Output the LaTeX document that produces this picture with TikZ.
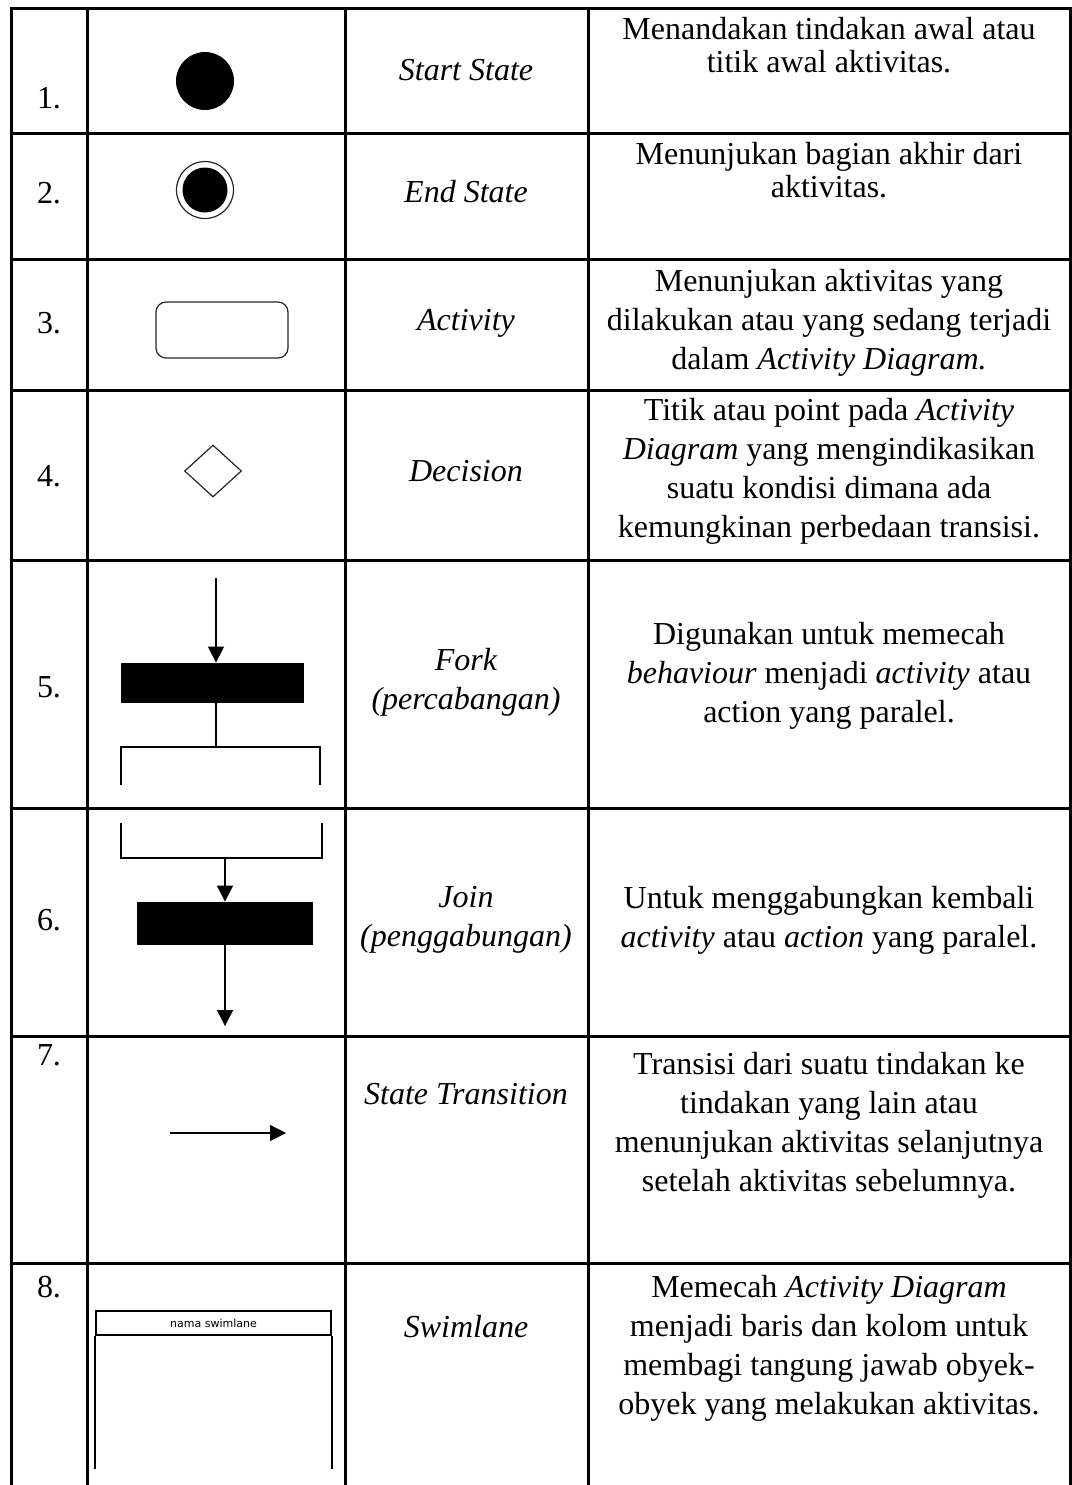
\documentclass[tikz,border=0pt]{standalone}
\usepackage{fontspec}
\setmainfont{Liberation Serif}
\newfontfamily\lanefont{DejaVu Sans}
\usetikzlibrary{arrows.meta,positioning,shapes.geometric}

\tikzset{
  tableline/.style={line width=1.5pt,line cap=rect},
  cell/.style={align=center,inner sep=0pt,font=\fontsize{16}{19.5}\selectfont},
  tightcell/.style={cell,font=\fontsize{16}{16.5}\selectfont},
  term/.style={cell,font=\fontsize{16}{19.5}\selectfont\itshape},
  thinshape/.style={draw=black!85,line width=0.6pt,inner sep=0pt},
  syncbar/.style={fill=black,inner sep=0pt},
  flow/.style={line width=0.7pt,-{Triangle[length=8pt,width=8pt]}},
  bracket/.style={line width=0.9pt},
}

\begin{document}
\begin{tikzpicture}[x=0.5pt,y=-0.5pt]
\useasboundingbox (0,0) rectangle (1072,1485);

% --- table grid (bottom is left open) ---
\draw[tableline] (11,1485) -- (11,8) -- (1070,8) -- (1070,1485);
\foreach \x in {87,345,588}
  \draw[tableline] (\x,8) -- (\x,1485);
\foreach \y in {133,259,390,560,808,1036,1263}
  \draw[tableline] (11,\y) -- (1070,\y);

% --- row numbers ---
\foreach \i/\y in {1/98,2/193,3/323,4/476,5/687,6/920,7/1055,8/1287}
  \node[cell] (num\i) at (49,\y) {\i.};

% --- symbol names ---
\node[term] (term1) at (466,70) {Start State};
\node[term] (term2) at (466,192) {End State};
\node[term] (term3) at (466,323) {Activity};
\node[term] (term4) at (466,471) {Decision};
\node[term] (term5) at (466,682) {Fork\\(percabangan)};
\node[term] (term6) at (466,920) {Join\\(penggabungan)};
\node[term] (term7) at (466,1094) {State Transition};
\node[term] (term8) at (466,1327) {Swimlane};

% --- descriptions ---
\node[tightcell] (desc1) at (829,45) {Menandakan tindakan awal atau\\titik awal aktivitas.};
\node[tightcell] (desc2) at (829,170) {Menunjukan bagian akhir dari\\aktivitas.};
\node[cell] (desc3) at (829,323) {Menunjukan aktivitas yang\\dilakukan atau yang sedang terjadi\\dalam \textit{Activity Diagram.}};
\node[cell] (desc4) at (829,471) {Titik atau point pada \textit{Activity}\\\textit{Diagram} yang mengindikasikan\\suatu kondisi dimana ada\\kemungkinan perbedaan transisi.};
\node[cell] (desc5) at (829,676) {Digunakan untuk memecah\\\textit{behaviour} menjadi \textit{activity} atau\\action yang paralel.};
\node[cell] (desc6) at (829,920) {Untuk menggabungkan kembali\\\textit{activity} atau \textit{action} yang paralel.};
\node[cell] (desc7) at (829,1125) {Transisi dari suatu tindakan ke\\tindakan yang lain atau\\menunjukan aktivitas selanjutnya\\setelah aktivitas sebelumnya.};
\node[cell] (desc8) at (829,1348) {Memecah \textit{Activity Diagram}\\menjadi baris dan kolom untuk\\membagi tangung jawab obyek-\\obyek yang melakukan aktivitas.};

% --- start, end, activity, decision ---
\node[circle,fill=black,inner sep=0pt,minimum size=29pt] (startst) at (205,81) {};
\node[circle,thinshape,minimum size=28.5pt] (endst) at (205,190) {};
\node[circle,fill=black,inner sep=0pt,minimum size=22.5pt] (endcore) at (endst) {};
\node[thinshape,rounded corners=5pt,minimum width=66pt,minimum height=28pt] (act) at (222,330) {};
\node[diamond,thinshape,minimum width=28.5pt,minimum height=26pt] (dec) at (213,471) {};

% --- fork ---
\node[syncbar,minimum width=91.5pt,minimum height=20pt] (forkbar) at (212.5,683) {};
\coordinate (forkin) at (216,578);
\coordinate (forkmid) at (216,747);
\coordinate (forkl) at (121,785);
\coordinate (forkr) at (320,785);
\draw[flow] (forkin) -- (forkin |- forkbar.north);
\draw[bracket] (forkin |- forkbar.south) -- (forkmid);
\draw[bracket] (forkl) |- (forkmid) -| (forkr);

% --- join ---
\coordinate (joinl) at (121,823);
\coordinate (joinr) at (322,823);
\coordinate (joinmid) at (225,858);
\coordinate (joinout) at (225,1026);
\node[syncbar,minimum width=88pt,minimum height=21.5pt] (joinbar) at (225,923.5) {};
\draw[bracket] (joinl) |- (joinmid) -| (joinr);
\draw[flow] (joinmid) -- (joinbar.north);
\draw[flow] (joinbar.south) -- (joinout);

% --- transition ---
\coordinate (trfrom) at (170,1133);
\coordinate (trto) at (286,1133);
\draw[flow] (trfrom) -- (trto);

% --- swimlane ---
\node[draw,line width=1pt,inner sep=0pt,minimum width=117.5pt,minimum height=12pt,
      font=\lanefont\fontsize{5.5}{6}\selectfont] (lanehead) at (213.5,1323) {nama swimlane};
\coordinate (laneend) at (213.5,1469);
\draw[line width=1pt] (lanehead.south west) -- (lanehead.south west |- laneend);
\draw[line width=1pt] (lanehead.south east) -- (lanehead.south east |- laneend);

\end{tikzpicture}
\end{document}
